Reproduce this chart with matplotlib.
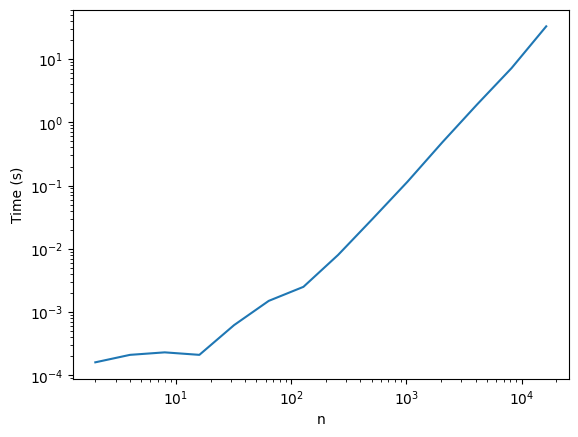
import numpy as np
import matplotlib
matplotlib.use('Agg')
import matplotlib.pyplot as plt

n = [2, 4, 8, 16, 32, 64, 128, 256, 512, 1024, 2048, 4096, 8192, 16384]
vrijeme = [1.6e-4, 2.1e-4, 2.3e-4, 2.1e-4, 6.2e-4, 1.5e-3, 2.5e-3, 8.0e-3,
           3.0e-2, 0.115, 0.48, 1.9, 7.2, 33.0]

fig = plt.figure(figsize=(6.4, 4.8), dpi=100)
plt.loglog(n, vrijeme)
plt.xlabel('n')
plt.ylabel('Time (s)')
plt.savefig('out.png', bbox_inches='tight')
